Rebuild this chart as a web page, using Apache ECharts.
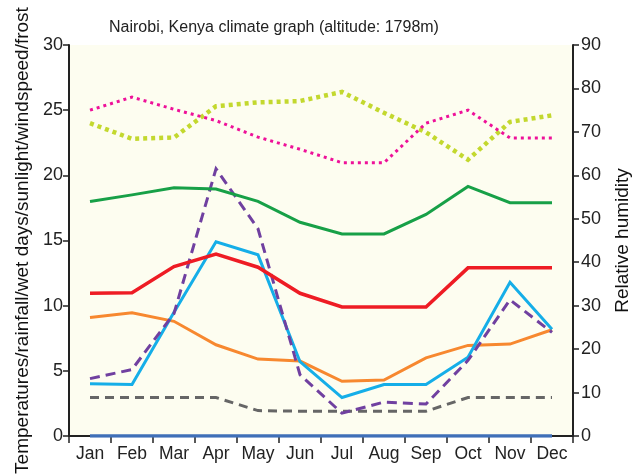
<!DOCTYPE html>
<html>
<head>
<meta charset="utf-8">
<script src="https://cdn.jsdelivr.net/npm/echarts@6/dist/echarts.min.js"></script>
<style>html,body{margin:0;padding:0;background:#fff}#c{width:639px;height:475px}</style>
</head>
<body>
<div id="c"></div>
<script>
var months = ['Jan','Feb','Mar','Apr','May','Jun','Jul','Aug','Sep','Oct','Nov','Dec'];
var maxTemp  = [24.0, 22.8, 22.9, 25.3, 25.6, 25.7, 26.4, 24.8, 23.3, 21.2, 24.1, 24.6];
var meanTemp = [18.0, 18.5, 19.05, 18.95, 18.0, 16.4, 15.5, 15.5, 17.0, 19.15, 17.9, 17.9];
var minTemp  = [10.95, 11.0, 13.0, 13.95, 12.95, 10.95, 9.9, 9.9, 9.9, 12.9, 12.9, 12.9];
var sunlight = [9.1, 9.45, 8.8, 7.0, 5.9, 5.75, 4.2, 4.3, 6.0, 6.95, 7.05, 8.15];
var wetDays  = [4.0, 3.95, 9.5, 14.9, 13.9, 5.7, 2.95, 3.95, 3.95, 6.05, 11.8, 8.2];
var rainfall = [4.4, 5.1, 9.4, 20.5, 15.9, 4.7, 1.75, 2.6, 2.45, 5.8, 10.45, 7.95];
var windspeed= [2.95, 2.95, 2.95, 2.95, 1.95, 1.9, 1.9, 1.9, 1.9, 2.95, 2.95, 2.95];
var frost    = [0,0,0,0,0,0,0,0,0,0,0,0];
var humidity = [75.0, 78.0, 75.2, 72.6, 68.8, 66.0, 62.9, 62.9, 72.0, 75.0, 68.6, 68.6];
var leftTicks = [0,5,10,15,20,25,30];
var rightTicks = [0,10,20,30,40,50,60,70,80,90];

var font = '"Liberation Sans", Arial, Helvetica, sans-serif';
function line(name, data, color, width, type, yIdx, z) {
  return {
    name: name, type: 'line', data: data, yAxisIndex: yIdx || 0,
    symbol: 'none', smooth: false, z: z || 3,
    lineStyle: {color: color, width: width, type: type || 'solid', cap: 'butt', join: 'miter'},
    itemStyle: {color: color}
  };
}
var chart = echarts.init(document.getElementById('c'), null, {renderer: 'canvas'});
chart.setOption({
  animation: false,
  backgroundColor: '#ffffff',
  title: {
    text: 'Nairobi, Kenya climate graph (altitude: 1798m)',
    left: 104, top: 15,
    textStyle: {fontFamily: font, fontSize: 16, fontWeight: 'normal', color: '#222'}
  },
  grid: {left: 69, right: 66, top: 45, bottom: 39, show: true, backgroundColor: '#fdfdf0', borderWidth: 0,
    containLabel: false, outerBoundsMode: 'none'},
  xAxis: {
    type: 'category', data: months, boundaryGap: true,
    axisLine: {lineStyle: {color: '#222', width: 2}},
    axisTick: {show: true, alignWithLabel: false, length: 7, lineStyle: {color: '#222', width: 1.5}},
    axisLabel: {fontFamily: font, fontSize: 17.5, color: '#222', margin: 9, interval: 0},
    splitLine: {show: false}
  },
  yAxis: [
    {
      type: 'value', min: 0, max: 30, interval: 5, position: 'left',
      name: 'Temperatures/rainfall/wet days/sunlight/windspeed/frost',
      nameLocation: 'middle', nameGap: 34, nameRotate: 90,
      nameTextStyle: {fontFamily: font, fontSize: 19, color: '#111'},
      axisLine: {show: true, lineStyle: {color: '#222', width: 2}},
      axisTick: {show: true, length: 6, lineStyle: {color: '#222', width: 1.5}},
      axisLabel: {fontFamily: font, fontSize: 18, color: '#222', margin: 6,
        formatter: function(v){ return leftTicks.indexOf(v) >= 0 ? String(v) : ''; }},
      splitLine: {show: false}
    },
    {
      type: 'value', min: 0, max: 90, interval: 10, position: 'right',
      name: 'Relative humidity',
      nameLocation: 'middle', nameGap: 40, nameRotate: 90,
      nameTextStyle: {fontFamily: font, fontSize: 19, color: '#111'},
      axisLine: {show: true, lineStyle: {color: '#222', width: 2}},
      axisTick: {show: true, length: 6, lineStyle: {color: '#222', width: 1.5}},
      axisLabel: {fontFamily: font, fontSize: 18, color: '#222', margin: 8,
        formatter: function(v){ return rightTicks.indexOf(v) >= 0 ? String(v) : ''; }},
      splitLine: {show: false}
    }
  ],
  series: [
    line('Windspeed', windspeed, '#666666', 3, [9, 6]),
    line('Sunlight', sunlight, '#f7882f', 3),
    line('Wet days', wetDays, '#15aee8', 3),
    line('Rainfall', rainfall, '#7040a0', 3, [10, 6]),
    line('Min temp', minTemp, '#ee1c24', 3.5),
    line('Mean temp', meanTemp, '#17a047', 3),
    line('Max temp', maxTemp, '#c3d82e', 4.5, [4, 4]),
    line('Humidity', humidity, '#ee1199', 3, [3, 4], 1),
    line('Frost', frost, '#3f6fb8', 3.5, 'solid', 0, 10)
  ]
});
</script>
</body>
</html>
